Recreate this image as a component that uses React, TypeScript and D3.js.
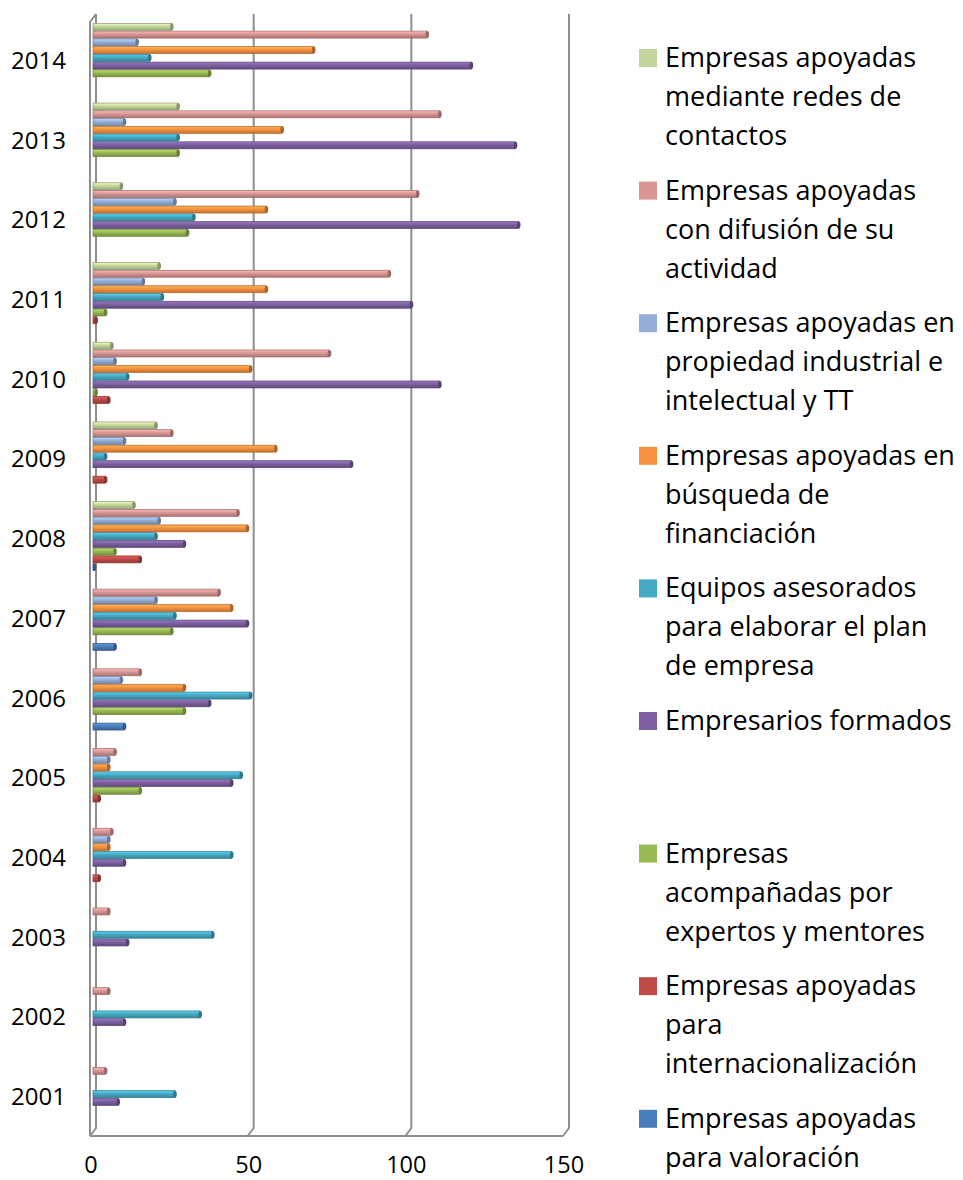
import React from 'react';
import * as d3 from 'd3';

const years = [2001, 2002, 2003, 2004, 2005, 2006, 2007, 2008, 2009, 2010, 2011, 2012, 2013, 2014];

// series values per year (2001 -> 2014)
const valoracion = [0, 0, 0, 0, 0, 10, 7, 0.5, 0, 0, 0, 0, 0, 0];
const internacionalizacion = [0, 0, 0, 2, 2, 0, 0, 15, 4, 5, 1, 0, 0, 0];
const expertos = [0, 0, 0, 0, 15, 29, 25, 7, 0, 1, 4, 30, 27, 37];
const formados = [8, 10, 11, 10, 44, 37, 49, 29, 82, 110, 101, 135, 134, 120];
const planEmpresa = [26, 34, 38, 44, 47, 50, 26, 20, 4, 11, 22, 32, 27, 18];
const financiacion = [0, 0, 0, 5, 5, 29, 44, 49, 58, 50, 55, 55, 60, 70];
const propiedad = [0, 0, 0, 5, 5, 9, 20, 21, 10, 7, 16, 26, 10, 14];
const difusion = [4, 5, 5, 6, 7, 15, 40, 46, 25, 75, 94, 103, 110, 106];
const redes = [0, 0, 0, 0, 0, 0, 0, 13, 20, 6, 21, 9, 27, 25];

const xTicks = [0, 50, 100, 150];

// bottom-to-top order inside each year group
const series = [
  { key: 'valoracion', values: valoracion, color: '#4a7ebb',
    label: ['Empresas apoyadas', 'para valoración'] },
  { key: 'internacionalizacion', values: internacionalizacion, color: '#be4b48',
    label: ['Empresas apoyadas', 'para', 'internacionalización'] },
  { key: 'expertos', values: expertos, color: '#98b954',
    label: ['Empresas', 'acompañadas por', 'expertos y mentores'] },
  { key: 'formados', values: formados, color: '#7d60a0',
    label: ['Empresarios formados'] },
  { key: 'planEmpresa', values: planEmpresa, color: '#46aac5',
    label: ['Equipos asesorados', 'para elaborar el plan', 'de empresa'] },
  { key: 'financiacion', values: financiacion, color: '#f69240',
    label: ['Empresas apoyadas en', 'búsqueda de', 'financiación'] },
  { key: 'propiedad', values: propiedad, color: '#95afd8',
    label: ['Empresas apoyadas en', 'propiedad industrial e', 'intelectual y TT'] },
  { key: 'difusion', values: difusion, color: '#d99694',
    label: ['Empresas apoyadas', 'con difusión de su', 'actividad'] },
  { key: 'redes', values: redes, color: '#c3d69b',
    label: ['Empresas apoyadas', 'mediante redes de', 'contactos'] },
];

const FONT = '"Open Sans", sans-serif';
const GRID = '#8e8e8e';

export default function App() {
  const x = d3.scaleLinear().domain([0, 150]).range([93, 566]);
  const y = d3.scaleBand<number>().domain([...years].reverse()).range([18, 1134]);
  const inner = d3.scaleBand<string>()
    .domain([...series].reverse().map((s) => s.key))
    .range([-34.5, 34.5])
    .paddingInner(0.1);
  const bh = inner.bandwidth();

  const backTop = 14;
  const backBottom = 1128;
  const frontBottom = 1136;
  const dBack = 3;
  const dFront = -3;

  const legendOrder = [...series].reverse();

  return (
    <svg width={963} height={1180} style={{ position: 'absolute', left: 0, top: 0, background: '#fff' }}
      fontFamily={FONT}>
      <defs>
        {series.map((s) => {
          const c = d3.color(s.color)!;
          return (
            <linearGradient key={s.key} id={'g-' + s.key} x1="0" y1="0" x2="0" y2="1">
              <stop offset="0" stopColor={c.brighter(0.6).formatHex()} />
              <stop offset="0.45" stopColor={s.color} />
              <stop offset="1" stopColor={c.darker(0.7).formatHex()} />
            </linearGradient>
          );
        })}
      </defs>

      {/* walls / gridlines */}
      <g stroke={GRID} strokeWidth={2} fill="none">
        {xTicks.map((t) => (
          <path key={t}
            d={`M${x(t) + dBack},${backTop} L${x(t) + dBack},${backBottom} L${x(t) + dFront},${frontBottom}`} />
        ))}
        <path d={`M${x(0) + dBack},${backTop} L${x(0) + dFront},${backTop + 8} L${x(0) + dFront},${frontBottom}`} />
        <path d={`M${x(0) + dFront},${frontBottom} L${x(150) + dFront},${frontBottom}`} />
      </g>

      {/* bars */}
      {years.map((yr, yi) => {
        const cy = (y(yr) ?? 0) + y.bandwidth() / 2;
        return (
          <g key={yr}>
            {series.map((s) => {
              const v = s.values[yi];
              if (!v) return null;
              const by = cy + (inner(s.key) ?? 0);
              const x0 = x(0);
              const x1 = x(v);
              const dark = d3.color(s.color)!.darker(1).formatHex();
              return (
                <g key={s.key}>
                  <rect x={x0} y={by} width={Math.max(x1 - x0, 0.5)} height={bh}
                    fill={`url(#g-${s.key})`} stroke={dark} strokeWidth={0.7} />
                  <ellipse cx={x1} cy={by + bh / 2} rx={1.8} ry={bh / 2}
                    fill={dark} />
                </g>
              );
            })}
          </g>
        );
      })}

      {/* year labels */}
      {years.map((yr) => (
        <text key={yr} x={66} y={(y(yr) ?? 0) + y.bandwidth() / 2 + 11} textAnchor="end"
          fontSize={24} fill="#000">{yr}</text>
      ))}

      {/* x tick labels */}
      {xTicks.map((t) => (
        <text key={t} x={x(t) + dFront + 1} y={1173} textAnchor="middle"
          fontSize={23.5} fill="#000">{t}</text>
      ))}

      {/* legend */}
      {legendOrder.map((s, i) => {
        const ly = 58 + i * 132.6;
        return (
          <g key={s.key}>
            <rect x={639} y={ly - 9} width={18} height={18} fill={s.color} />
            {s.label.map((line, li) => (
              <text key={li} x={665} y={ly + li * 39 + 9} fontSize={27} fill="#000">{line}</text>
            ))}
          </g>
        );
      })}
    </svg>
  );
}
